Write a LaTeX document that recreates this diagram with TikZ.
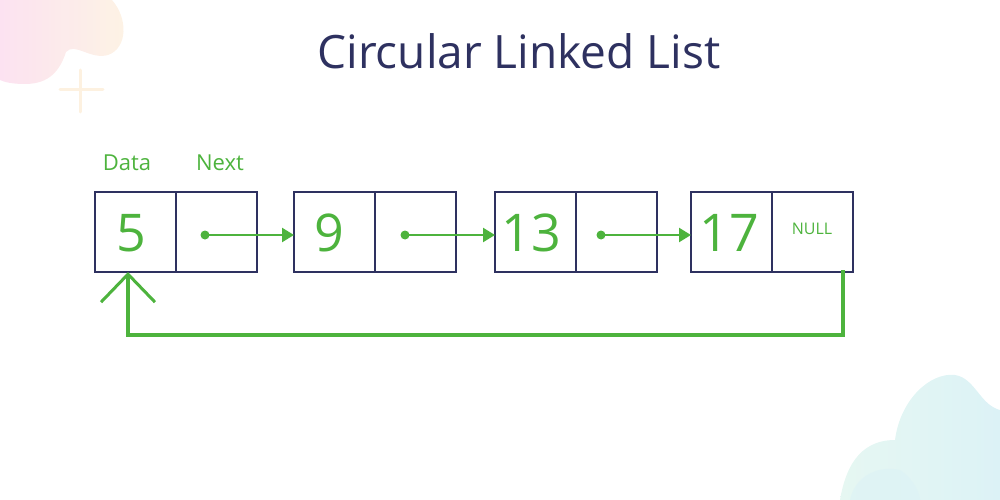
\documentclass[tikz,border=0pt]{standalone}
\usepackage{fontspec}
\setmainfont{Open Sans}
\usetikzlibrary{arrows.meta}
\definecolor{navy}{HTML}{2E3160}
\definecolor{lgreen}{HTML}{4DB33D}
\definecolor{blobpink}{HTML}{FBDDEE}
\definecolor{blobpeach}{HTML}{FDF1E0}
\definecolor{blobcyan}{HTML}{E6F7F2}
\definecolor{blobcyan2}{HTML}{DCF2F6}
\tikzset{
  cell/.style={draw=navy, line width=2.2pt, minimum width=81pt, minimum height=80pt, inner sep=0pt, outer sep=0pt},
  val/.style={text=lgreen, font=\fontsize{52}{52}\selectfont},
  lbl/.style={text=lgreen, font=\fontsize{22}{22}\selectfont},
  ptr/.style={draw=lgreen, line width=2.4pt, -{Triangle[length=12pt,width=14pt]}},
  dotp/.style={circle, fill=lgreen, inner sep=0pt, minimum size=9pt},
  back/.style={draw=lgreen, line width=4pt, -{Straight Barb[length=28pt,width=54pt,line width=3pt]}}
}
\begin{document}
\begin{tikzpicture}[x=1pt,y=-1pt]
\useasboundingbox (0,0) rectangle (1000,500);
% background decorations
\shade[left color=blobpink, right color=blobpeach, opacity=0.85] (0,0) -- (112,0) .. controls (128,18) and (128,48) .. (108,55) .. controls (90,60) and (75,42) .. (66,52) .. controls (60,70) and (50,84) .. (25,84) .. controls (12,84) and (4,82) .. (0,80) -- cycle;
\draw[blobpeach, line width=3pt, line cap=round] (80,70) -- (80,112) (60,90) -- (103,90);
\shade[left color=blobcyan, right color=blobcyan2] (1000,500) -- (840,500) .. controls (845,470) and (858,440) .. (895,440) .. controls (900,400) and (930,372) .. (955,375) .. controls (975,378) and (980,405) .. (1000,410) -- cycle;
\fill[blobcyan2, opacity=0.6] (850,500) .. controls (855,475) and (880,465) .. (900,470) .. controls (915,480) and (920,495) .. (920,500) -- cycle;
% title
\node[text=navy, font=\fontsize{46}{46}\selectfont] (title) at (519,51) {Circular Linked List};
% labels
\node[lbl] (ldata) at (127,163) {Data};
\node[lbl] (lnext) at (220,163) {Next};
% nodes
\node[cell, anchor=north west] (d1) at (95,192) {};
\node[cell, anchor=north west] (n1) at (176,192) {};
\node[cell, anchor=north west] (d2) at (294,192) {};
\node[cell, anchor=north west] (n2) at (375,192) {};
\node[cell, anchor=north west] (d3) at (495,192) {};
\node[cell, anchor=north west] (n3) at (576,192) {};
\node[cell, anchor=north west] (d4) at (691,192) {};
\node[cell, anchor=north west] (n4) at (772,192) {};
\node[val] (v1) at (131,233) {5};
\node[val] (v2) at (329,233) {9};
\node[val] (v3) at (531,233) {13};
\node[val] (v4) at (729,233) {17};
\node[text=lgreen, font=\fontsize{16}{16}\selectfont] (null) at (812,229) {NULL};
% pointers
\node[dotp] (p1) at (205,235) {};
\node[dotp] (p2) at (405,235) {};
\node[dotp] (p3) at (601,235) {};
\draw[ptr] (p1.center) -- (d2.west |- p1);
\draw[ptr] (p2.center) -- (d3.west |- p2);
\draw[ptr] (p3.center) -- (d4.west |- p3);
% back link
\coordinate (bs) at (843,270);
\coordinate (bt) at (128,272);
\draw[back] (bs) -- (843,335) -- (128,335) -- (bt);
\end{tikzpicture}
\end{document}
